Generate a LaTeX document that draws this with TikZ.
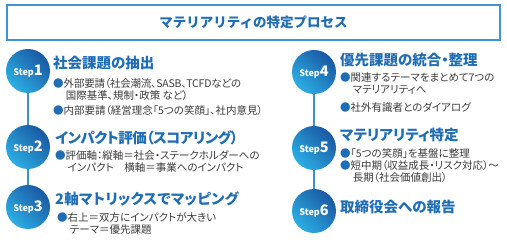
\documentclass[tikz,border=0pt]{standalone}
\usepackage{fontspec}
\setmainfont{Noto Sans CJK JP}
\newfontfamily\jpprop{Noto Sans CJK JP}[RawFeature=+palt]
\usetikzlibrary{positioning}
\definecolor{bluBordo}{HTML}{3D95D5}
\definecolor{bluChiaro}{HTML}{2BAEE4}
\definecolor{bluScuro}{HTML}{1A58A2}
\definecolor{bluTesto}{HTML}{1F6DB5}
\definecolor{bluLinea}{HTML}{3F8FCF}
\definecolor{grigio}{HTML}{3A3A3A}
\tikzset{
  stepball/.style={circle, minimum size=44pt, inner sep=0pt, left color=bluChiaro, right color=bluScuro, shading angle=135, text=white, font=\bfseries},
  stephead/.style={anchor=west, inner sep=0pt, text=bluTesto, font=\jpprop\bfseries\fontsize{14.5}{17}\selectfont},
  stepitem/.style={anchor=north west, inner sep=0pt, align=left, text=grigio, font=\jpprop\fontsize{10.5}{12}\selectfont},
  link/.style={bluLinea, line width=2pt}
}
\newcommand{\pallino}{\textcolor{bluTesto}{●}}
\newcommand{\numstep}[1]{{\fontsize{9}{9}\selectfont Step}{\fontsize{14.5}{14.5}\selectfont #1}}
\begin{document}
\begin{tikzpicture}[x=1pt,y=-1pt]
        \useasboundingbox (0,0) rectangle (507,240);
        %titolo
        \node[draw=bluBordo, line width=1.5pt, minimum width=493pt, minimum height=35pt, inner sep=0pt] (titolo) at (253.5,22.5) {\bfseries\fontsize{13.5}{16}\selectfont\textcolor{bluTesto}{マテリアリティの特定プロセス}};
        %cerchi step
        \node[stepball] (s1) at (28,71) {\numstep{1}};
        \node[stepball] (s2) at (28,147) {\numstep{2}};
        \node[stepball] (s3) at (28,207) {\numstep{3}};
        \node[stepball] (s4) at (314,72) {\numstep{4}};
        \node[stepball] (s5) at (314,148) {\numstep{5}};
        \node[stepball] (s6) at (314,211) {\numstep{6}};
        %linee
        \draw[link] (s1) -- (s2);
        \draw[link] (s2) -- (s3);
        \draw[link] (s4) -- (s5);
        \draw[link] (s5) -- (s6);
        %step 1
        \node[stephead] (h1) at (53,63.5) {社会課題の抽出};
        \node[stepitem] (b11) at (53,78) {\pallino {\addfontfeature{LetterSpace=-1.8}外部要請（社会潮流、SASB、TCFDなどの}\\\hspace*{1.2em}国際基準、規制・政策 など）};
        \node[stepitem] (b12) at (53,105) {\pallino 内部要請（経営理念「5つの笑顔」、社内意見）};
        %step 2
        \node[stephead] (h2) at (55,137.5) {\addfontfeature{LetterSpace=-3.5}インパクト評価（スコアリング）};
        \node[stepitem] (b21) at (55,150) {\pallino 評価軸：縦軸＝社会・ステークホルダーへの\\\hspace*{1.2em}インパクト\quad 横軸＝事業へのインパクト};
        %step 3
        \node[stephead] (h3) at (55,198.5) {\addfontfeature{LetterSpace=2.2}2軸マトリックスでマッピング};
        \node[stepitem] (b31) at (57,212) {\pallino 右上＝双方にインパクトが大きい\\\hspace*{1.2em}テーマ＝優先課題};
        %step 4
        \node[stephead] (h4) at (340,60) {優先課題の統合・整理};
        \node[stepitem] (b41) at (340,72) {\pallino 関連するテーマをまとめて7つの\\\hspace*{1.2em}マテリアリティへ};
        \node[stepitem] (b42) at (340,102) {\pallino 社外有識者とのダイアログ};
        %step 5
        \node[stephead] (h5) at (340,135) {マテリアリティ特定};
        \node[stepitem] (b51) at (340,148) {\pallino「5つの笑顔」を基盤に整理};
        \node[stepitem] (b52) at (340,160) {\pallino 短中期（収益成長・リスク対応）～\\\hspace*{1.2em}長期（社会価値創出）};
        %step 6
        \node[stephead] (h6) at (340,207) {取締役会への報告};
\end{tikzpicture}
\end{document}
